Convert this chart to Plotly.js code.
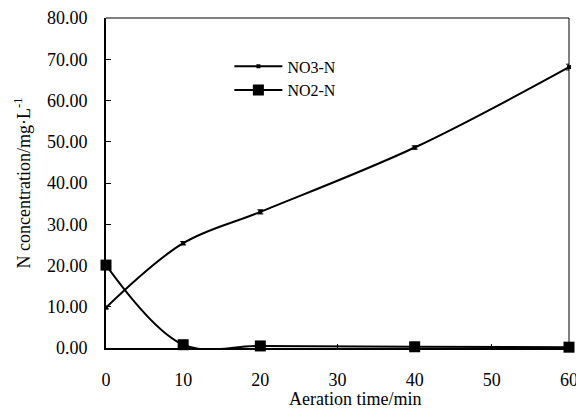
<!DOCTYPE html>
<html>
<head>
<meta charset="utf-8">
<script src="https://cdn.plot.ly/plotly-3.0.1.min.js"></script>
<style>html,body{margin:0;padding:0;background:#fff}#chart{width:576px;height:409px}</style>
</head>
<body>
<div id="chart"></div>
<script>
var timeMin = [0, 10, 20, 40, 60];
var no3 = [9.8, 25.4, 33.0, 48.6, 68.1];
var no3Err = [0.3, 0.4, 0.5, 0.4, 0.7];
var no2 = [20.1, 0.8, 0.5, 0.3, 0.2];
var no2Err = [0.3, 0.2, 0.1, 0.1, 0.1];
var xTicks = [0, 10, 20, 30, 40, 50, 60];
var yTicks = [0, 10, 20, 30, 40, 50, 60, 70, 80];

var font = '"Liberation Serif", "Times New Roman", serif';

var traces = [
  {
    x: timeMin, y: no3, name: 'NO3-N', type: 'scatter', mode: 'lines+markers', cliponaxis: false,
    line: {color: '#000', width: 2, shape: 'spline', smoothing: 1},
    marker: {symbol: 'square', size: 4, color: '#000'},
    error_y: {type: 'data', array: no3Err, visible: true, color: '#000', thickness: 1, width: 3}
  },
  {
    x: timeMin, y: no2, name: 'NO2-N', type: 'scatter', mode: 'lines+markers', cliponaxis: false,
    line: {color: '#000', width: 2, shape: 'spline', smoothing: 1},
    marker: {symbol: 'square', size: 11, color: '#000'},
    error_y: {type: 'data', array: no2Err, visible: true, color: '#000', thickness: 1, width: 3}
  }
];

var layout = {
  width: 576, height: 409,
  margin: {l: 106, r: 7, t: 18, b: 61},
  paper_bgcolor: '#fff', plot_bgcolor: '#fff',
  font: {family: font, size: 18, color: '#000'},
  showlegend: true,
  legend: {x: 0.2665, y: 0.905, xanchor: 'left', yanchor: 'top', bgcolor: 'rgba(0,0,0,0)',
           itemwidth: 48,
           font: {family: font, size: 16, color: '#000'}, tracegroupgap: 0},
  xaxis: {
    range: [0, 60], tickvals: xTicks, ticktext: xTicks.map(String),
    ticks: 'inside', ticklen: 4, tickcolor: '#000', tickwidth: 1,
    showline: true, linecolor: '#000', linewidth: 2, showgrid: false, zeroline: false,
    ticklabelstandoff: 14, ticklabeloverflow: 'allow',
    tickfont: {family: font, size: 18}
  },
  yaxis: {
    range: [0, 80], tickvals: yTicks, tickformat: '.2f',
    ticks: 'inside', ticklen: 5, tickcolor: '#000', tickwidth: 1,
    showline: true, linecolor: '#000', linewidth: 2, showgrid: false, zeroline: false,
    ticklabelstandoff: 13,
    tickfont: {family: font, size: 18},
    title: {text: 'N concentration/mg·L<sup>-1</sup>', font: {family: font, size: 18}, standoff: 12}
  },
  annotations: [
    {text: 'Aeration time/min', xref: 'paper', yref: 'paper', x: (355 - 106) / 463, y: (348 - 399) / 330,
     xanchor: 'center', yanchor: 'middle', showarrow: false, font: {family: font, size: 18, color: '#000'}}
  ],
  shapes: [
    {type: 'line', xref: 'paper', yref: 'paper', x0: 0, x1: 1, y0: 1, y1: 1, line: {color: '#000', width: 1}},
    {type: 'line', xref: 'paper', yref: 'paper', x0: 1, x1: 1, y0: 0, y1: 1, line: {color: '#000', width: 1}}
  ]
};

Plotly.newPlot('chart', traces, layout, {displayModeBar: false, staticPlot: true});
</script>
</body>
</html>
